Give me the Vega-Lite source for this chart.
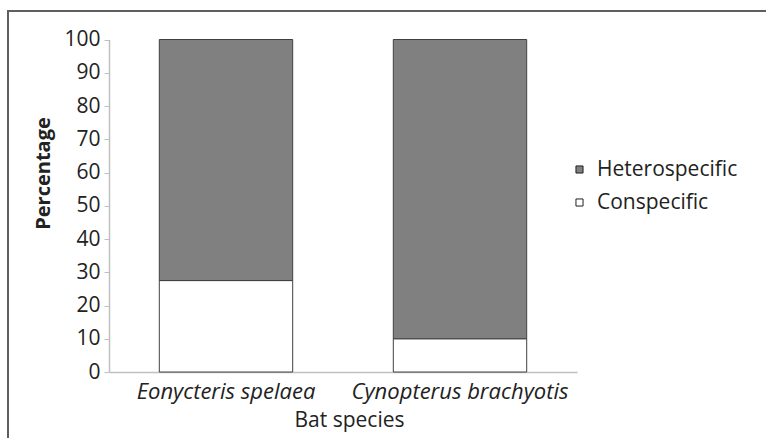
{
  "$schema": "https://vega.github.io/schema/vega-lite/v6.json",
  "autosize": "none",
  "width": 758,
  "height": 427,
  "padding": {"left": 8, "top": 11, "right": 0, "bottom": 0},
  "background": "white",
  "data": {"values": [
    {"species": "Eonycteris spelaea", "type": "Conspecific", "pct": 27.5},
    {"species": "Eonycteris spelaea", "type": "Heterospecific", "pct": 72.5},
    {"species": "Cynopterus brachyotis", "type": "Conspecific", "pct": 10},
    {"species": "Cynopterus brachyotis", "type": "Heterospecific", "pct": 90}
  ]},
  "mark": {"type": "bar", "stroke": "#404040", "strokeWidth": 1},
  "encoding": {
    "x": {
      "field": "species", "type": "nominal", "sort": ["Eonycteris spelaea", "Cynopterus brachyotis"],
      "scale": {"range": [101, 569], "paddingInner": 0.43, "paddingOuter": 0.215},
      "axis": {"title": "Bat species", "offset": -66, "labelAngle": 0, "labelFontStyle": "italic", "labelFontSize": 22, "labelLimit": 400, "labelDx": -3, "ticks": false, "labelPadding": 9, "titlePadding": 7, "titleFontSize": 21, "titleX": 341, "domainColor": "#c0c0c0", "domainWidth": 1.5}
    },
    "y": {
      "field": "pct", "type": "quantitative", "stack": "zero",
      "scale": {"domain": [0, 100], "nice": false, "range": [361, 28.5]},
      "axis": {"title": "Percentage", "offset": -101, "values": [0,10,20,30,40,50,60,70,80,90,100], "grid": false, "tickSize": 5, "tickColor": "#c0c0c0", "domainColor": "#c0c0c0", "domainWidth": 1.5, "labelPadding": 4, "labelFontSize": 21, "titleFontWeight": "bold", "titleFontSize": 20, "titlePadding": 10, "titleY": 162}
    },
    "color": {
      "field": "type", "type": "nominal",
      "scale": {"domain": ["Heterospecific", "Conspecific"], "range": ["#808080", "#ffffff"]},
      "legend": {"title": null, "orient": "none", "legendX": 561, "legendY": 148, "symbolType": "square", "symbolSize": 50, "symbolStrokeColor": "#202020", "symbolStrokeWidth": 1, "labelFontSize": 21, "labelColor": "#222222", "labelOffset": 7, "rowPadding": 11}
    },
    "order": {"field": "type", "sort": "ascending"}
  },
  "config": {
    "font": "Open Sans",
    "view": {"stroke": "#5f5f5f", "strokeWidth": 2, "strokeDash": [758, 1185, 427]},
    "axis": {"labelColor": "#222222", "titleColor": "#222222", "labelFont": "Open Sans", "titleFont": "Open Sans", "titleFontWeight": "normal"},
    "legend": {"labelFont": "Open Sans"}
  }
}
